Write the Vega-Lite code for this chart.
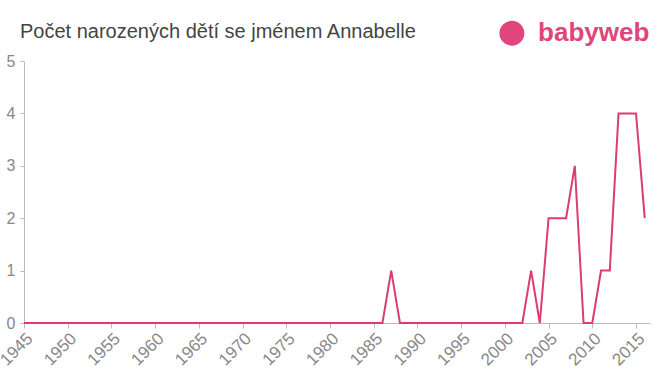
{
  "$schema": "https://vega.github.io/schema/vega-lite/v6.json",
  "autosize": {"type": "none"},
  "width": 626,
  "height": 262,
  "padding": {"left": 24, "top": 61, "right": 10, "bottom": 52},
  "background": "white",
  "title": {
    "text": "Počet narozených dětí se jménem Annabelle",
    "anchor": "start",
    "frame": "group",
    "dx": -4,
    "offset": -22,
    "font": "Liberation Sans",
    "fontSize": 20,
    "fontWeight": "normal",
    "color": "#444444"
  },
  "config": {
    "view": {"stroke": null},
    "axis": {
      "labelFont": "Liberation Sans",
      "labelFontSize": 15,
      "labelColor": "#888888",
      "domainColor": "#bbbbbb",
      "tickColor": "#bbbbbb",
      "grid": false,
      "title": null
    }
  },
  "layer": [
    {
      "data": {"values": [
        {"year":1945,"count":0},{"year":1946,"count":0},{"year":1947,"count":0},{"year":1948,"count":0},{"year":1949,"count":0},
        {"year":1950,"count":0},{"year":1951,"count":0},{"year":1952,"count":0},{"year":1953,"count":0},{"year":1954,"count":0},
        {"year":1955,"count":0},{"year":1956,"count":0},{"year":1957,"count":0},{"year":1958,"count":0},{"year":1959,"count":0},
        {"year":1960,"count":0},{"year":1961,"count":0},{"year":1962,"count":0},{"year":1963,"count":0},{"year":1964,"count":0},
        {"year":1965,"count":0},{"year":1966,"count":0},{"year":1967,"count":0},{"year":1968,"count":0},{"year":1969,"count":0},
        {"year":1970,"count":0},{"year":1971,"count":0},{"year":1972,"count":0},{"year":1973,"count":0},{"year":1974,"count":0},
        {"year":1975,"count":0},{"year":1976,"count":0},{"year":1977,"count":0},{"year":1978,"count":0},{"year":1979,"count":0},
        {"year":1980,"count":0},{"year":1981,"count":0},{"year":1982,"count":0},{"year":1983,"count":0},{"year":1984,"count":0},
        {"year":1985,"count":0},{"year":1986,"count":0},{"year":1987,"count":1},{"year":1988,"count":0},{"year":1989,"count":0},
        {"year":1990,"count":0},{"year":1991,"count":0},{"year":1992,"count":0},{"year":1993,"count":0},{"year":1994,"count":0},
        {"year":1995,"count":0},{"year":1996,"count":0},{"year":1997,"count":0},{"year":1998,"count":0},{"year":1999,"count":0},
        {"year":2000,"count":0},{"year":2001,"count":0},{"year":2002,"count":0},{"year":2003,"count":1},{"year":2004,"count":0},
        {"year":2005,"count":2},{"year":2006,"count":2},{"year":2007,"count":2},{"year":2008,"count":3},{"year":2009,"count":0},
        {"year":2010,"count":0},{"year":2011,"count":1},{"year":2012,"count":1},{"year":2013,"count":4},{"year":2014,"count":4},
        {"year":2015,"count":4},{"year":2016,"count":2}
      ]},
      "mark": {"type": "line", "color": "#dc3d6e", "strokeWidth": 2},
      "encoding": {
        "x": {
          "field": "year", "type": "quantitative",
          "scale": {"domain": [1945, 2016.6], "nice": false, "zero": false},
          "axis": {"values": [1945,1950,1955,1960,1965,1970,1975,1980,1985,1990,1995,2000,2005,2010,2015], "format": "d", "labelAngle": -45, "labelAlign": "right", "labelBaseline": "top", "labelFontSize": 17, "tickSize": 5, "labelPadding": 2}
        },
        "y": {
          "field": "count", "type": "quantitative",
          "scale": {"domain": [0, 5], "nice": false},
          "axis": {"values": [0,1,2,3,4,5], "tickSize": 4, "labelPadding": 5, "labelFontSize": 16}
        }
      }
    },
    {
      "data": {"values": [{"year": 2000.8, "count": 5.53}]},
      "mark": {"type": "point", "filled": true, "color": "#e0457b", "size": 620, "opacity": 1, "clip": false},
      "encoding": {
        "x": {"field": "year", "type": "quantitative"},
        "y": {"field": "count", "type": "quantitative"}
      }
    },
    {
      "data": {"values": [{"year": 2003.8, "count": 5.53, "label": "babyweb"}]},
      "mark": {"type": "text", "color": "#e0457b", "font": "Liberation Sans", "fontSize": 26, "fontWeight": "bold", "align": "left", "baseline": "middle", "clip": false},
      "encoding": {
        "x": {"field": "year", "type": "quantitative"},
        "y": {"field": "count", "type": "quantitative"},
        "text": {"field": "label"}
      }
    }
  ]
}
